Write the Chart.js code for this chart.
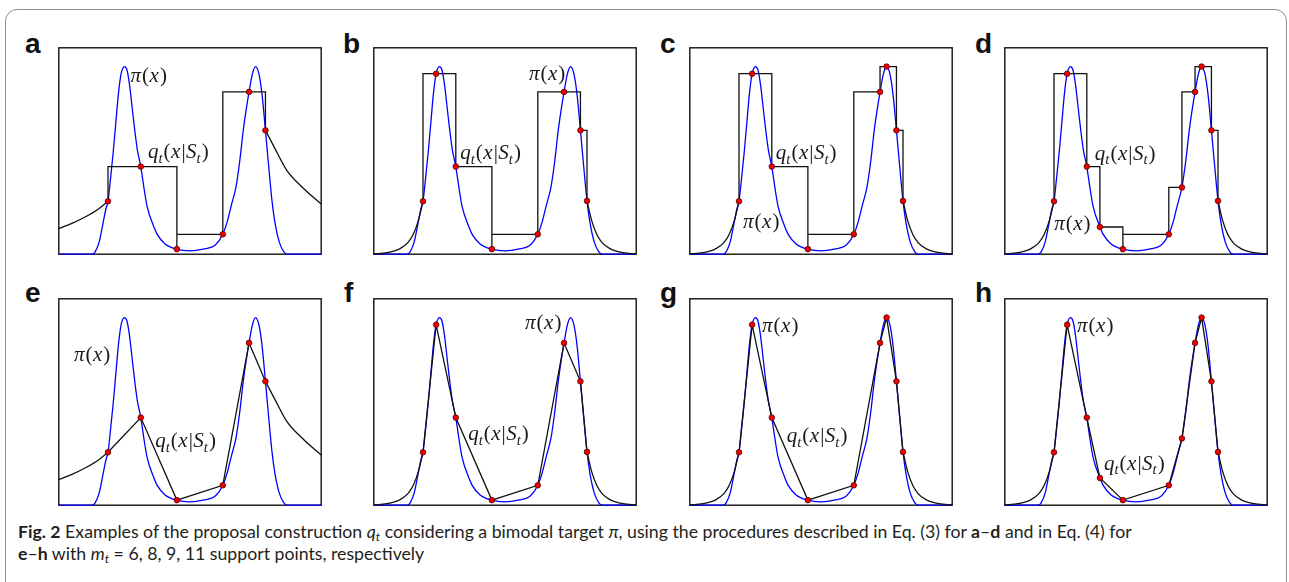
<!DOCTYPE html>
<html>
<head>
<meta charset="utf-8">
<script src="https://cdn.jsdelivr.net/npm/chart.js@4"></script>
<style>
  html, body { margin: 0; padding: 0; background: #fff; }
  body { width: 1289px; height: 582px; position: relative; overflow: hidden; }
  .frame { position: absolute; left: 5px; top: 9px; width: 1280px; height: 640px;
           border: 1.5px solid #8c8c8c; border-radius: 12px; }
  .panel { position: absolute; }
  .tag { position: absolute; font: bold 28px "Liberation Sans", Arial, sans-serif; line-height: 28px; color: #111; }
  .caption { position: absolute; left: 18px; font-family: Lato, "Open Sans", sans-serif; font-size: 17.7px;
             color: #231f20; white-space: nowrap; line-height: 22px; }
  .caption i { font-style: italic; }
  .caption sub { font-size: 0.7em; vertical-align: -0.25em; line-height: 0; }
</style>
</head>
<body>
<div class="frame"></div>

<div class="tag" style="left:25px;top:30px">a</div>
<div class="tag" style="left:343px;top:30px">b</div>
<div class="tag" style="left:660px;top:30px">c</div>
<div class="tag" style="left:975px;top:30px">d</div>
<div class="tag" style="left:25px;top:279px">e</div>
<div class="tag" style="left:344px;top:279px">f</div>
<div class="tag" style="left:660px;top:279px">g</div>
<div class="tag" style="left:975px;top:279px">h</div>

<canvas class="panel" id="pa" width="272" height="216" style="left:54px;top:43px"></canvas>
<canvas class="panel" id="pb" width="272" height="216" style="left:369px;top:43px"></canvas>
<canvas class="panel" id="pc" width="272" height="216" style="left:685px;top:43px"></canvas>
<canvas class="panel" id="pd" width="272" height="216" style="left:1000px;top:43px"></canvas>
<canvas class="panel" id="pe" width="272" height="216" style="left:54px;top:294px"></canvas>
<canvas class="panel" id="pf" width="272" height="216" style="left:369px;top:294px"></canvas>
<canvas class="panel" id="pg" width="272" height="216" style="left:685px;top:294px"></canvas>
<canvas class="panel" id="ph" width="272" height="216" style="left:1000px;top:294px"></canvas>

<div class="caption" style="top:521px"><b>Fig. 2</b> Examples of the proposal construction <i>q<sub>t</sub></i> considering a bimodal target <i>π</i>, using the procedures described in Eq. (3) for <b>a</b>–<b>d</b> and in Eq. (4) for</div>
<div class="caption" style="top:543px"><b>e</b>–<b>h</b> with <i>m<sub>t</sub></i> = 6, 8, 9, 11 support points, respectively</div>

<script>
// bimodal target pi(x), sampled along the curve
const piX = [-10, -7.45, -7.22, -6.92, -6.66, -6.41, -6.25, -6.04, -5.86, -5.66, -5.46, -5.25, -5.0,
             -4.81, -4.61, -4.41, -4.21, -4.01, -3.75, -3.53, -3.28, -2.75, -2.5, -1.9, -1.0, 0,
             1.0, 1.95, 2.5, 2.83, 3.14, 3.5, 3.78, 4.09, 4.5, 4.77, 5.0, 5.25, 5.49, 5.75, 5.97,
             6.25, 6.47, 6.8, 7.14, 7.4, 10];
const piY = [0, 0, 0.014, 0.066, 0.154, 0.241, 0.282, 0.415, 0.538, 0.695, 0.852, 0.962, 1.0,
             0.983, 0.904, 0.782, 0.66, 0.555, 0.467, 0.363, 0.258, 0.145, 0.106, 0.055, 0.027, 0.018,
             0.027, 0.05, 0.106, 0.171, 0.258, 0.356, 0.49, 0.677, 0.865, 0.965, 1.0, 0.962, 0.852, 0.66, 0.49,
             0.284, 0.171, 0.066, 0.014, 0, 0];

// support points S_t and their target values
const nodeX = [-6.25, -5.25, -3.75, -2.75, -1.0, 2.5, 3.5, 4.5, 5.0, 5.75, 6.25];
const nodeY = [0.282, 0.962, 0.467, 0.145, 0.027, 0.106, 0.356, 0.865, 1.0, 0.66, 0.284];

// which support points each proposal uses (m_t = 6, 8, 9, 11)
const nodes6 = [0, 2, 4, 5, 7, 9];
const nodes8 = [0, 1, 2, 4, 5, 7, 9, 10];
const nodes9 = [0, 1, 2, 4, 5, 7, 8, 9, 10];
const nodes11 = [0, 1, 2, 3, 4, 5, 6, 7, 8, 9, 10];

// proposal tails outside the support (heavy for m_t = 6, light otherwise)
const wideLeftX = [-10, -9, -8, -7, -6.25];
const wideLeftY = [0.136, 0.164, 0.198, 0.24, 0.282];
const wideRightX = [5.75, 6.5, 7.35, 8.6, 10];
const wideRightY = [0.66, 0.56, 0.45, 0.354, 0.267];
const thinLeftX = [-10, -9, -8, -7.4, -7.0, -6.6, -6.25];
const thinLeftY = [0.002, 0.008, 0.03, 0.062, 0.105, 0.18, 0.282];
const thinRightX = [6.25, 6.6, 7.0, 7.4, 8, 9, 10];
const thinRightY = [0.284, 0.18, 0.105, 0.062, 0.03, 0.008, 0.002];

const pts = (xs, ys) => xs.map((x, i) => ({ x, y: ys[i] }));

const panels = [
  { id: 'pa', nodes: nodes6, kind: 'step', tails: 'wide', pi: [-4.53, 0.92], q: [-3.2, 0.513] },
  { id: 'pb', nodes: nodes8, kind: 'step', tails: 'thin', pi: [1.83, 0.93], q: [-3.41, 0.508] },
  { id: 'pc', nodes: nodes9, kind: 'step', tails: 'thin', pi: [-5.94, 0.141], q: [-3.44, 0.508] },
  { id: 'pd', nodes: nodes11, kind: 'step', tails: 'thin', pi: [-6.24, 0.131], q: [-3.14, 0.503] },
  { id: 'pe', nodes: nodes6, kind: 'linear', tails: 'wide', pi: [-8.84, 0.771], q: [-2.65, 0.31] },
  { id: 'pf', nodes: nodes8, kind: 'linear', tails: 'thin', pi: [1.53, 0.94], q: [-2.81, 0.347] },
  { id: 'pg', nodes: nodes9, kind: 'linear', tails: 'thin', pi: [-4.49, 0.923], q: [-2.61, 0.337] },
  { id: 'ph', nodes: nodes11, kind: 'linear', tails: 'thin', pi: [-4.49, 0.923], q: [-2.44, 0.19] }
];

// plot box drawn under the curves
const boxPlugin = {
  id: 'box',
  beforeDatasetsDraw(chart) {
    const a = chart.chartArea, ctx = chart.ctx;
    ctx.save();
    ctx.strokeStyle = '#111';
    ctx.lineWidth = 1.4;
    ctx.strokeRect(a.left, a.top, a.right - a.left, a.bottom - a.top);
    ctx.restore();
  }
};

// pi(x) and q_t(x|S_t) labels, typeset piece by piece
function drawMath(ctx, x, y, parts, size) {
  let cx = x;
  for (const p of parts) {
    const s = p.sub ? size * 0.7 : size;
    ctx.font = (p.it ? 'italic ' : '') + s + 'px "Liberation Serif", "DejaVu Serif", serif';
    ctx.fillText(p.t, cx, y + (p.sub ? size * 0.22 : 0));
    cx += ctx.measureText(p.t).width + (p.gap || 0);
  }
}
const piParts = [{ t: 'π', it: true, gap: 1 }, { t: '(', gap: 0.5 }, { t: 'x', it: true, gap: 1 }, { t: ')' }];
const qParts = [{ t: 'q', it: true }, { t: 't', it: true, sub: true, gap: 1 }, { t: '(', gap: 0.5 }, { t: 'x', it: true, gap: 1 },
                { t: '|', gap: 0.5 }, { t: 'S', it: true }, { t: 't', it: true, sub: true, gap: 1 }, { t: ')' }];

const labelPlugin = {
  id: 'mathLabels',
  afterDatasetsDraw(chart, args, opts) {
    const ctx = chart.ctx, sx = chart.scales.x, sy = chart.scales.y;
    ctx.save();
    ctx.fillStyle = '#1a1a1a';
    ctx.textBaseline = 'alphabetic';
    drawMath(ctx, sx.getPixelForValue(opts.pi[0]), sy.getPixelForValue(opts.pi[1]), piParts, 21);
    drawMath(ctx, sx.getPixelForValue(opts.q[0]), sy.getPixelForValue(opts.q[1]), qParts, 21);
    ctx.restore();
  }
};

panels.forEach(p => {
  const sxs = p.nodes.map(i => nodeX[i]);
  const sys = p.nodes.map(i => nodeY[i]);

  // proposal body between the outer support points
  const body = [];
  if (p.kind === 'step') {
    for (let i = 0; i < sxs.length - 1; i++) {
      const h = Math.max(sys[i], sys[i + 1]);
      body.push({ x: sxs[i], y: sys[i] }, { x: sxs[i], y: h }, { x: sxs[i + 1], y: h }, { x: sxs[i + 1], y: sys[i + 1] });
    }
  } else {
    sxs.forEach((x, i) => body.push({ x, y: sys[i] }));
  }
  const left = p.tails === 'wide' ? pts(wideLeftX, wideLeftY) : pts(thinLeftX, thinLeftY);
  const right = p.tails === 'wide' ? pts(wideRightX, wideRightY) : pts(thinRightX, thinRightY);

  const black = { borderColor: '#111', borderWidth: 1.3, pointRadius: 0, clip: 3, fill: false };
  new Chart(document.getElementById(p.id), {
    type: 'line',
    data: {
      datasets: [
        { data: pts(sxs, sys), showLine: false, pointRadius: 2.8, pointBackgroundColor: '#f00000',
          pointBorderColor: '#500', pointBorderWidth: 0.8, order: 0, clip: 4 },
        { ...black, data: body, tension: 0, order: 1 },
        { ...black, data: left, cubicInterpolationMode: 'monotone', order: 1 },
        { ...black, data: right, cubicInterpolationMode: 'monotone', order: 1 },
        { data: pts(piX, piY), borderColor: '#0000ff', borderWidth: 1.3, pointRadius: 0,
          cubicInterpolationMode: 'monotone', order: 2, clip: 3 }
      ]
    },
    options: {
      responsive: false,
      animation: false,
      devicePixelRatio: 1,
      events: [],
      layout: { padding: 3 },
      plugins: { legend: { display: false }, tooltip: { enabled: false }, mathLabels: { pi: p.pi, q: p.q } },
      scales: {
        x: { type: 'linear', min: -10, max: 10, display: false },
        y: { min: 0, max: 1.1, display: false }
      }
    },
    plugins: [boxPlugin, labelPlugin]
  });
});
</script>
</body>
</html>
